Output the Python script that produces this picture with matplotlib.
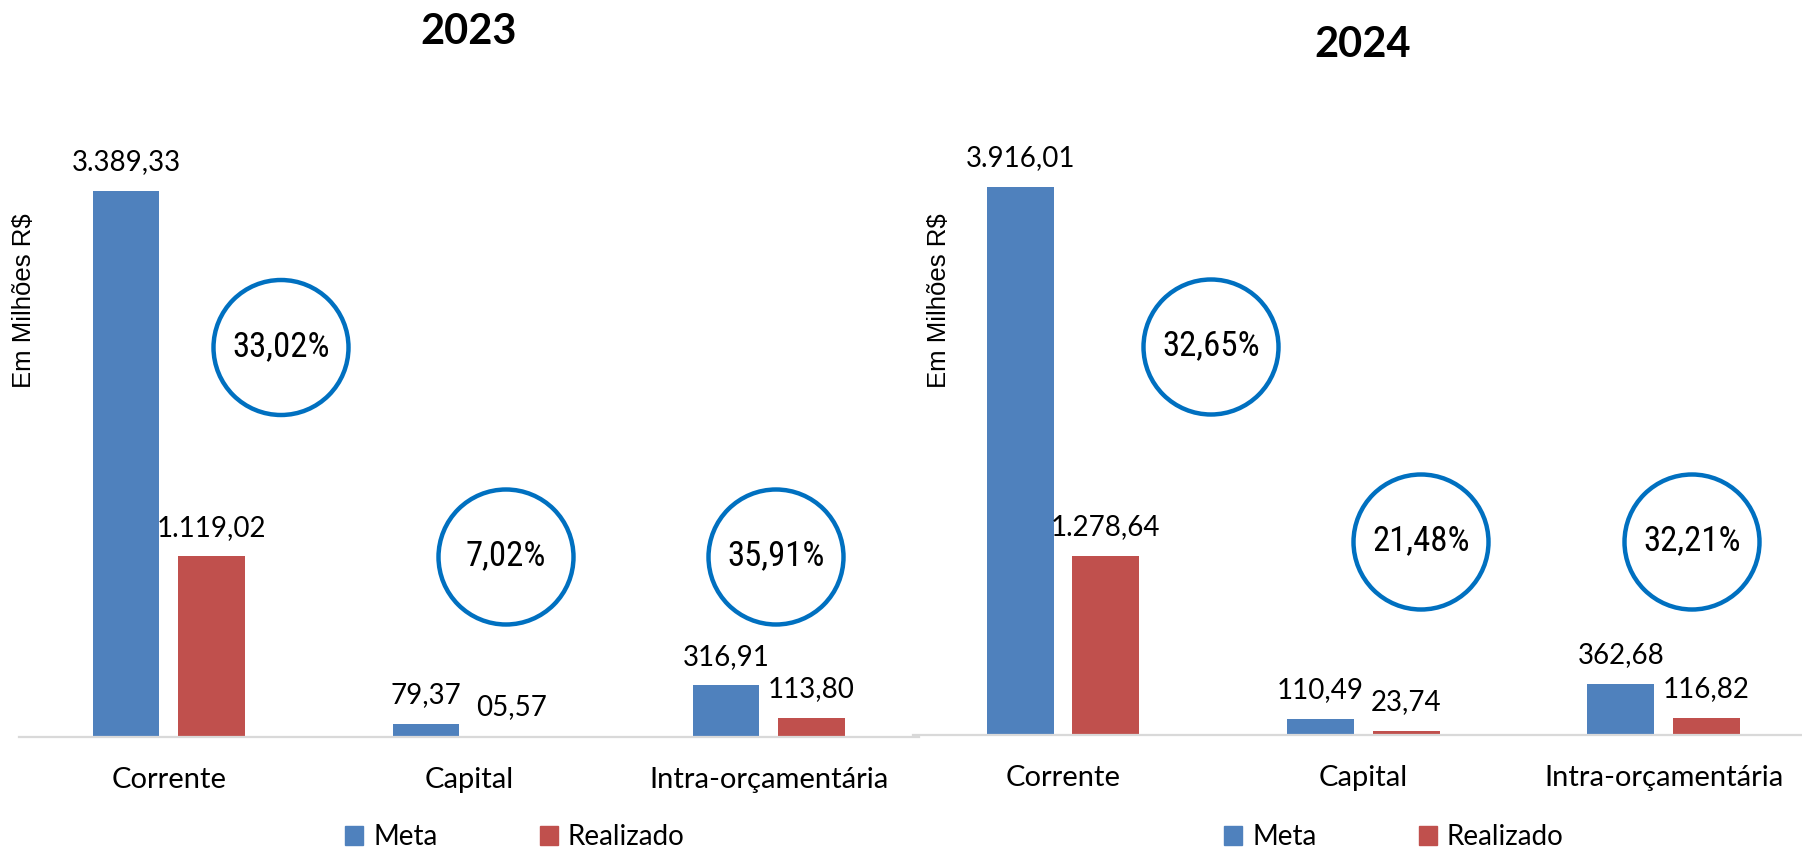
import matplotlib
import matplotlib.pyplot as plt
from matplotlib import font_manager
from matplotlib.patches import Circle, Patch

matplotlib.use("Agg")

# data
categorias = ["Corrente", "Capital", "Intra-orçamentária"]
anos = ["2023", "2024"]
meta_2023 = [3389.33, 79.37, 316.91]
realizado_2023 = [1119.02, 5.57, 113.80]
meta_2024 = [3916.01, 110.49, 362.68]
realizado_2024 = [1278.64, 23.74, 116.82]
perc_2023 = ["33,02%", "7,02%", "35,91%"]
perc_2024 = ["32,65%", "21,48%", "32,21%"]

COR_META = "#4F81BD"
COR_REAL = "#C0504D"
COR_CIRC = "#0070C0"

W, H = 1802, 849
fig = plt.figure(figsize=(W / 100, H / 100), dpi=100)

names = {f.name for f in font_manager.fontManager.ttflist}
narrow = next((n for n in ["Liberation Sans Narrow", "Roboto Condensed",
                           "Open Sans Condensed"] if n in names), "DejaVu Sans")
MAIN = "Lato"


def px_axes(x0, x1, y_base, y_top):
    # pixel box (origin top-left) -> figure fraction
    return [x0 / W, (H - y_base) / H, (x1 - x0) / W, (y_base - y_top) / H]


def fmt(v):
    s = f"{v:05,.2f}"
    return s.replace(",", "X").replace(".", ",").replace("X", ".")


def draw_panel(box, ytop, meta, real, perc, circles, title, title_xy, ylab_xy, leg_xy):
    ax = fig.add_axes(box)
    x = range(len(categorias))
    w = 0.223
    b1 = ax.bar([i - 0.143 for i in x], meta, width=w, color=COR_META, label="Meta")
    b2 = ax.bar([i + 0.142 for i in x], real, width=w, color=COR_REAL, label="Realizado")
    for bars, vals in ((b1, meta), (b2, real)):
        for r, v in zip(bars, vals):
            ax.annotate(fmt(v), (r.get_x() + r.get_width() / 2, v),
                        xytext=(0, 15), textcoords="offset points",
                        ha="center", va="baseline", fontsize=20, family=MAIN)
    ax.set_xlim(-0.5, 2.5)
    ax.set_ylim(0, ytop)
    ax.set_xticks(list(x))
    ax.set_xticklabels(categorias, fontsize=21, family=MAIN)
    ax.tick_params(axis="x", length=0, pad=22)
    ax.set_yticks([])
    for s in ("top", "left", "right"):
        ax.spines[s].set_visible(False)
    ax.spines["bottom"].set_color("#D9D9D9")
    ax.spines["bottom"].set_linewidth(1.6)

    for (cx, cy), p in zip(circles, perc):
        fig.patches.append(Circle((cx / 100, (H - cy) / 100), 0.675, fill=False,
                                  edgecolor=COR_CIRC, linewidth=3.2,
                                  transform=fig.dpi_scale_trans))
        fig.text(cx / W, 1 - (cy - 1) / H, p, ha="center", va="center",
                 fontsize=25, family=narrow, fontstretch="condensed")

    fig.text(title_xy[0] / W, 1 - title_xy[1] / H, title, ha="center", va="center",
             fontsize=30, fontweight="bold", family=MAIN)
    fig.text(ylab_xy[0] / W, 1 - ylab_xy[1] / H, "Em Milhões R$", rotation=90,
             ha="center", va="center", fontsize=18.5, family="Liberation Sans")
    fig.legend(handles=[Patch(color=COR_META, label="Meta"),
                        Patch(color=COR_REAL, label="Realizado")],
               loc="center", bbox_to_anchor=(leg_xy[0] / W, 1 - leg_xy[1] / H),
               ncol=2, frameon=False, prop={"family": MAIN, "size": 20},
               handlelength=0.65, handleheight=0.65, handletextpad=0.35,
               columnspacing=3.7, borderpad=0)
    return ax


draw_panel(px_axes(18.9, 918.9, 736.5, 100), 3954.7, meta_2023, realizado_2023, perc_2023,
           [(281, 347.5), (506, 557), (776, 557)], anos[0], (469, 32), (24.5, 301), (515, 837))
draw_panel(px_axes(913, 1814, 734.7, 100), 4538.0, meta_2024, realizado_2024, perc_2024,
           [(1211, 347), (1421, 542), (1692, 542)], anos[1], (1363, 45), (939, 301), (1394, 837))

fig.savefig("out.png", dpi=100)
plt.close(fig)
